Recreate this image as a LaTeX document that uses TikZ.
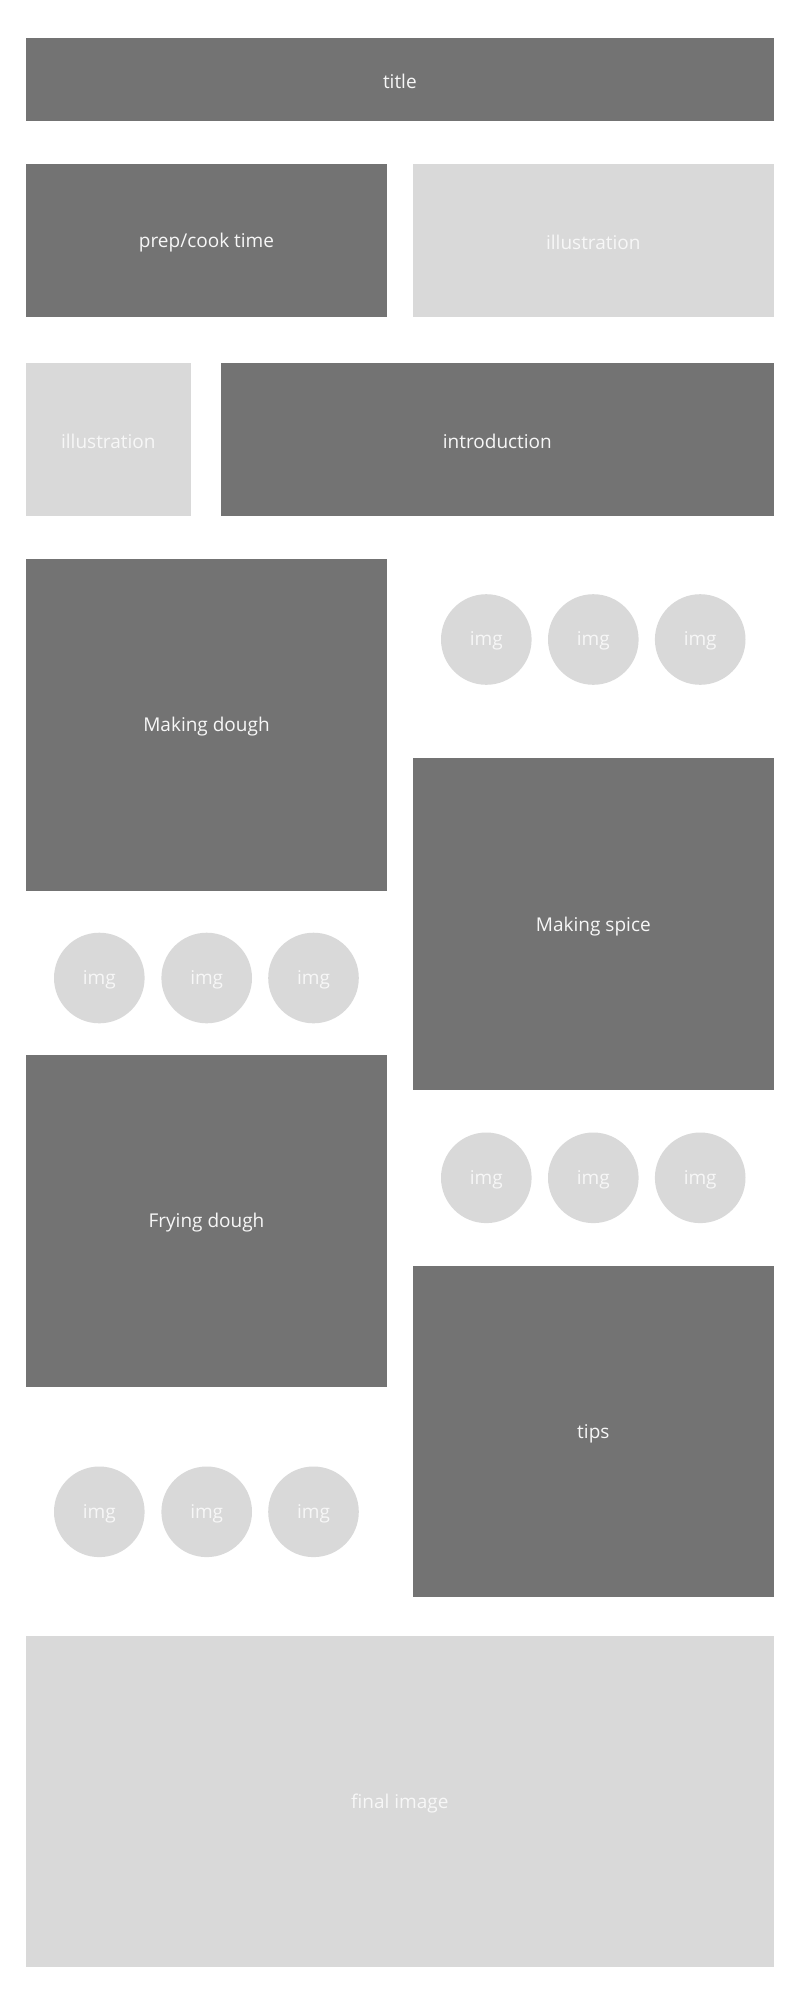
\documentclass[tikz,border=0pt]{standalone}
\usepackage{fontspec}
\setmainfont{Open Sans}
\definecolor{darkbox}{HTML}{737373}
\definecolor{lightbox}{HTML}{D9D9D9}
\definecolor{txt}{HTML}{F7F7F7}
\begin{document}
\begin{tikzpicture}[x=1pt,y=-1pt,
  lbl/.style={text=txt,font=\fontsize{19}{22}\selectfont,yshift=-2pt},
  dbox/.style={fill=darkbox},
  lbox/.style={fill=lightbox},
  imgc/.style={circle,fill=lightbox,minimum size=90.6pt,inner sep=0pt},
  imgt/.style={text=txt,font=\fontsize{19}{22}\selectfont,yshift=-1.5pt}]
\useasboundingbox[fill=white] (0,0) rectangle (800,2000);
% boxes
\fill[dbox] (26,38) rectangle (773.7,121.3);
\node[lbl] (title) at (399.85,79.65) {title};
\fill[dbox] (26,164) rectangle (387,316.7);
\node[lbl] (prep) at (206.5,240.35) {prep/cook time};
\fill[lbox] (413,164) rectangle (773.7,316.7);
\node[lbl] (ill1) at (593.35,240.35) {illustration};
\fill[lbox] (26,363) rectangle (190.7,516);
\node[lbl] (ill2) at (108.35,439.5) {illustration};
\fill[dbox] (221,363) rectangle (773.7,516);
\node[lbl] (intro) at (497.35,439.5) {introduction};
\fill[dbox] (26,559) rectangle (387,890.7);
\node[lbl] (dough) at (206.5,724.85) {Making dough};
\fill[dbox] (413,758.3) rectangle (773.7,1090);
\node[lbl] (spice) at (593.35,924.15) {Making spice};
\fill[dbox] (26,1055.3) rectangle (387,1386.7);
\node[lbl] (fry) at (206.5,1221) {Frying dough};
\fill[dbox] (413,1265.7) rectangle (773.7,1597.3);
\node[lbl] (tips) at (593.35,1431.5) {tips};
\fill[lbox] (26,1636) rectangle (773.7,1967.3);
\node[lbl] (final) at (399.85,1801.65) {final image};
% circles
\foreach \n/\x/\y in {r1a/486.3/639.5, r1b/593.3/639.5, r1c/700.2/639.5,
                      l1a/99.3/978, l1b/206.7/978, l1c/313.5/978,
                      r2a/486.3/1177.8, r2b/593.3/1177.8, r2c/700.2/1177.8,
                      l2a/99.3/1511.8, l2b/206.7/1511.8, l2c/313.5/1511.8}{
  \node[imgc] (\n) at (\x,\y) {};
  \node[imgt] (\n-t) at (\n.center) {img};
}
\end{tikzpicture}
\end{document}
